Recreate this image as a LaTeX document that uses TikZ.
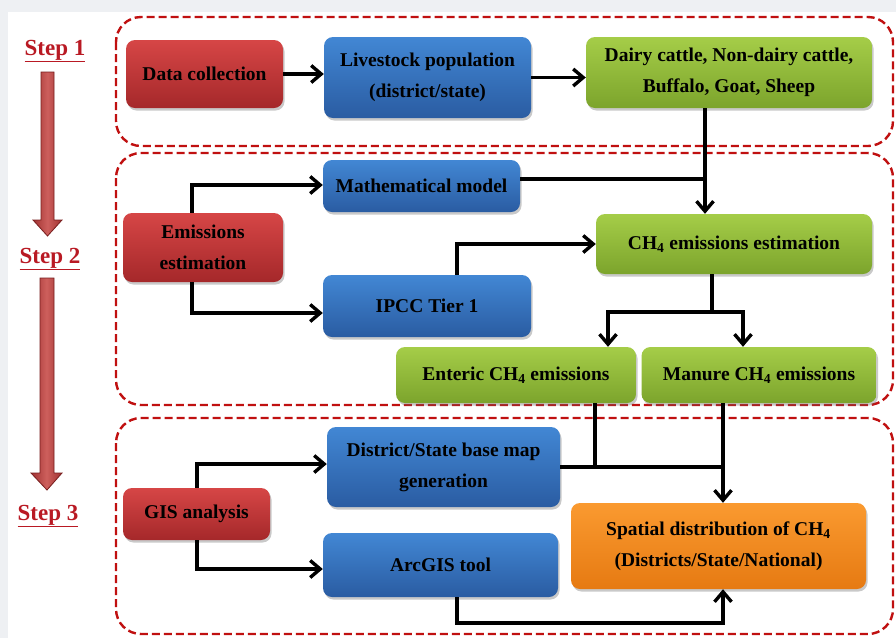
\documentclass[tikz,border=0pt]{standalone}
\usepackage{fontspec}
\setmainfont{Liberation Serif}
\usetikzlibrary{arrows.meta,shadows,calc}
\definecolor{bggray}{RGB}{238,240,243}
\definecolor{dashred}{RGB}{192,16,16}
\definecolor{stepred}{RGB}{185,25,35}
\definecolor{redT}{RGB}{214,70,70}
\definecolor{redB}{RGB}{165,40,42}
\definecolor{blueT}{RGB}{66,135,212}
\definecolor{blueB}{RGB}{42,92,162}
\definecolor{greenT}{RGB}{165,205,72}
\definecolor{greenB}{RGB}{124,164,44}
\definecolor{orangeT}{RGB}{250,154,48}
\definecolor{orangeB}{RGB}{230,122,18}
\definecolor{shaftL}{RGB}{160,50,50}
\definecolor{shaftM}{RGB}{205,95,92}
\definecolor{shaftD}{RGB}{120,30,30}
\begin{document}
\begin{tikzpicture}[x=1pt,y=-1pt,
  basebox/.style={rounded corners=9pt, align=center, inner sep=2pt,
    font=\fontsize{19.5}{31}\selectfont\bfseries,
    drop shadow={shadow xshift=1.5pt, shadow yshift=-2.5pt, opacity=0.35, fill=black!60}},
  redbox/.style={basebox, top color=redT, bottom color=redB},
  bluebox/.style={basebox, top color=blueT, bottom color=blueB},
  greenbox/.style={basebox, top color=greenT, bottom color=greenB},
  orangebox/.style={basebox, top color=orangeT, bottom color=orangeB},
  dashbox/.style={draw=dashred, line width=2.4pt, dash pattern=on 8pt off 4pt, rounded corners=25pt},
  conn/.style={line width=3.4pt, black},
  arr/.style={conn, -{Straight Barb[length=10pt,width=17pt]}},
  steplabel/.style={text=stepred, font=\fontsize{23}{27}\selectfont\bfseries},
  stepshaft/.style={draw=shaftD, line width=0.8pt, left color=shaftL, right color=shaftL, middle color=shaftM}
]
\useasboundingbox (0,0) rectangle (896,638);
\clip (0,0) rectangle (896,638);
\fill[bggray] (0,0) rectangle (896,638);
\fill[white] (8,12) rectangle (896,638);

% dashed step frames
\draw[dashbox] (116,17) rectangle (893,146);
\draw[dashbox] (116,153) rectangle (893,405);
\draw[dashbox] (116,418) rectangle (893,634);

% step labels and arrows
\node[steplabel] (s1) at (55,51) {\underline{Step 1}};
\node[steplabel] (s2) at (50,259) {\underline{Step 2}};
\node[steplabel] (s3) at (48,516) {\underline{Step 3}};
\path[stepshaft] (41,72) -- (54,72) -- (54,220) -- (62,220) -- (47.5,236) -- (33,220) -- (41,220) -- cycle;
\path[stepshaft] (40,278) -- (54,278) -- (54,473) -- (62,473) -- (47,490) -- (31,473) -- (40,473) -- cycle;

% nodes
\node[redbox, minimum width=157pt, minimum height=68pt] (dc) at (204.5,74) {Data collection};
\node[bluebox, minimum width=207pt, minimum height=81pt] (lp) at (427.5,77.5) {Livestock population\\(district/state)};
\node[greenbox, minimum width=286pt, minimum height=71pt] (dairy) at (729,72.5) {Dairy cattle, Non-dairy cattle,\\Buffalo, Goat, Sheep};
\node[bluebox, minimum width=197pt, minimum height=52pt] (mm) at (421.5,186) {Mathematical model};
\node[redbox, minimum width=160pt, minimum height=69pt] (ee) at (203,247.5) {Emissions\\estimation};
\node[greenbox, minimum width=276pt, minimum height=60pt] (ch4) at (734,244) {CH\textsubscript{4} emissions estimation};
\node[bluebox, minimum width=208pt, minimum height=62pt] (ipcc) at (427,306) {IPCC Tier 1};
\node[greenbox, minimum width=240pt, minimum height=56pt] (ent) at (516,375) {Enteric CH\textsubscript{4} emissions};
\node[greenbox, minimum width=235pt, minimum height=56pt] (man) at (759,375) {Manure CH\textsubscript{4} emissions};
\node[bluebox, minimum width=233pt, minimum height=80pt] (bm) at (443.5,467) {District/State base map\\generation};
\node[redbox, minimum width=147pt, minimum height=52pt] (gis) at (196.5,514) {GIS analysis};
\node[bluebox, minimum width=235pt, minimum height=64pt] (arc) at (440.5,565) {ArcGIS tool};
\node[orangebox, minimum width=295pt, minimum height=86pt] (sp) at (718.5,546) {Spatial distribution of CH\textsubscript{4}\\(Districts/State/National)};

% helper coordinates
\coordinate (xv) at (705,0);
\coordinate (xe) at (192,0);
\coordinate (xi) at (457,0);
\coordinate (split) at (712,312);
\coordinate (xl) at (608,0);
\coordinate (xr) at (743,0);
\coordinate (xen) at (595,0);
\coordinate (xm) at (723,0);
\coordinate (xg) at (197,0);
\coordinate (xa) at (457,0);
\coordinate (ybot) at (0,623);
\coordinate (ymm) at (0,179);
\coordinate (yee) at (0,185);
\coordinate (yip) at (0,313);
\coordinate (ygt) at (0,464);
\coordinate (ygb) at (0,569);

% connectors
\draw[arr] (dc.east) -- (dc.east -| lp.west);
\draw[arr] (lp.east) -- (lp.east -| dairy.west);
\draw[arr] (xv |- dairy.south) -- (xv |- ch4.north);
\draw[conn] (mm.east |- ymm) -- (xv |- ymm);
\draw[arr] (xe |- ee.north) -- (xe |- yee) -- (mm.west |- yee);
\draw[arr] (xe |- ee.south) -- (xe |- yip) -- (ipcc.west |- yip);
\draw[arr] (xi |- ipcc.north) |- (ch4.west);
\draw[conn] (split |- ch4.south) -- (split);
\draw[arr] (split) -| (xl |- ent.north);
\draw[arr] (split) -| (xr |- man.north);
\draw[conn] (xen |- ent.south) -- (xen |- bm.east);
\draw[conn] (bm.east) -- (xm |- bm.east);
\draw[arr] (xm |- man.south) -- (xm |- sp.north);
\draw[arr] (xg |- gis.north) -- (xg |- ygt) -- (bm.west |- ygt);
\draw[arr] (xg |- gis.south) -- (xg |- ygb) -- (arc.west |- ygb);
\draw[arr] (xa |- arc.south) -- (xa |- ybot) -| (xm |- sp.south);
\end{tikzpicture}
\end{document}
